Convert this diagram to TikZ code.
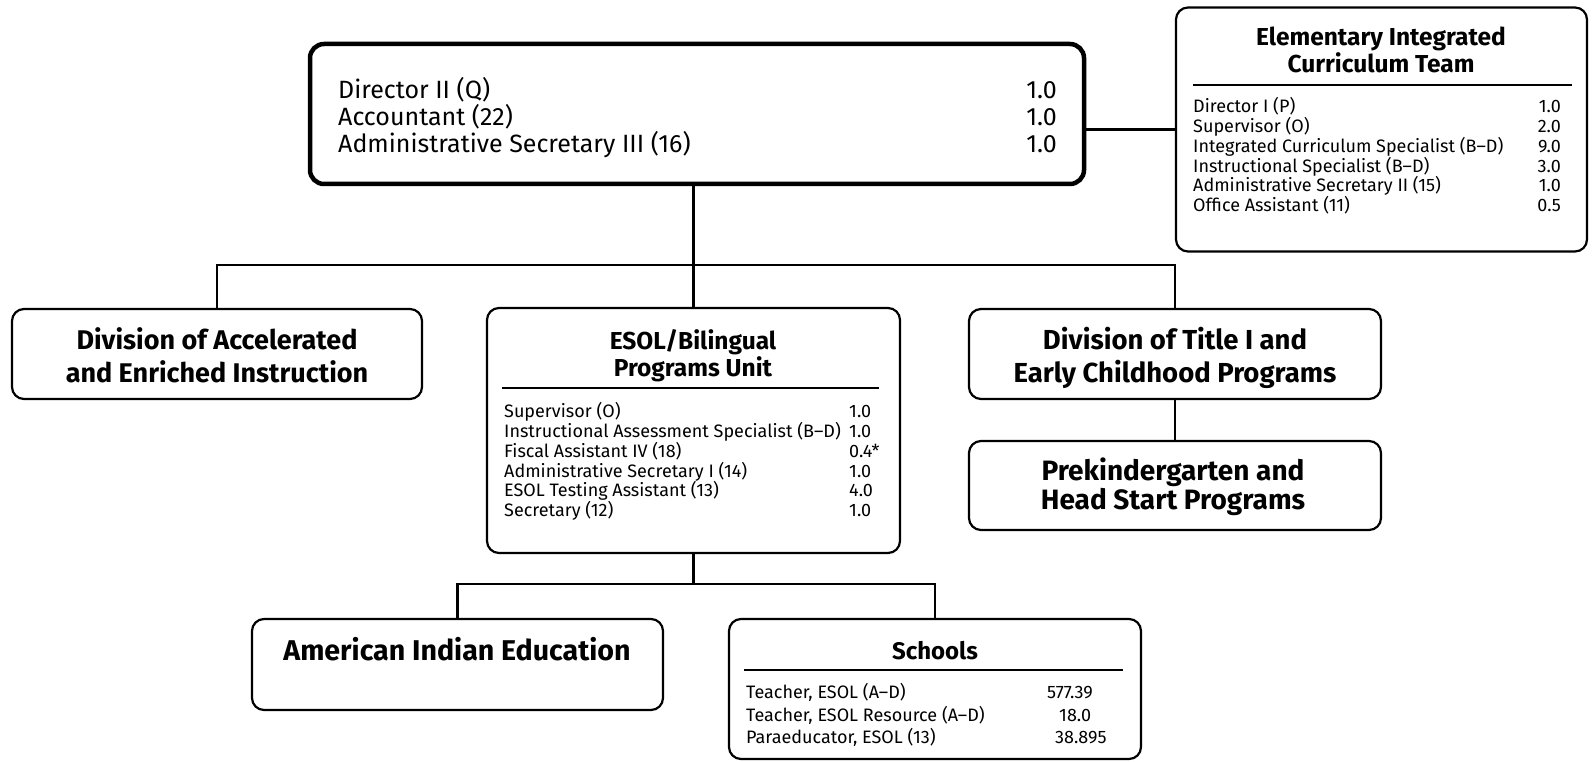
\documentclass[tikz,border=0pt]{standalone}
\usepackage{fontspec}
\setmainfont{Fira Sans}
\newfontfamily\regf{Fira Sans}
\newfontfamily\boldf{Fira Sans}
\tikzset{
  box/.style={draw, rounded corners=12pt, line width=2.2pt, inner sep=0pt},
  tbox/.style={draw, rounded corners=14pt, line width=4.5pt, inner sep=0pt},
  conn/.style={line width=2.2pt},
  rulel/.style={line width=1.3pt},
  toptxt/.style={inner sep=0pt, font=\regf\fontsize{25}{28}\selectfont},
  smtxt/.style={inner sep=0pt, font=\regf\fontsize{18}{20}\selectfont},
  bigtitle/.style={inner sep=0pt, align=center, font=\boldf\bfseries\fontsize{27}{33}\selectfont},
  midtitle/.style={inner sep=0pt, align=center, font=\boldf\bfseries\fontsize{24.5}{27}\selectfont},
}
\begin{document}
\begin{tikzpicture}[x=1pt,y=-1pt]
\useasboundingbox (0,0) rectangle (1592,762);
% boxes
\node[tbox, minimum width=774, minimum height=140] (top) at (697,114) {};
\node[box, minimum width=411, minimum height=244] (elem) at (1381.5,129.5) {};
\node[box, minimum width=410, minimum height=90] (acc) at (217,354) {};
\node[box, minimum width=413, minimum height=245] (esol) at (693.5,430.5) {};
\node[box, minimum width=412, minimum height=90] (title1) at (1175,354) {};
\node[box, minimum width=412, minimum height=89] (prek) at (1175,485.5) {};
\node[box, minimum width=411, minimum height=91] (amind) at (457.5,664.5) {};
\node[box, minimum width=412, minimum height=140] (schools) at (935,689) {};
% connectors
\coordinate (bus) at (0,265);
\coordinate (busb) at (0,584);
\draw[conn] (top.east |- elem.west) -- (elem.west);
\draw[conn] (top.south -| esol.north) -- (esol.north);
\draw[conn] (acc.north) -- (acc.north |- bus) -- (title1.north |- bus) -- (title1.north);
\draw[conn] (title1.south) -- (prek.north);
\draw[conn] (esol.south) -- (esol.south |- busb);
\draw[conn] (amind.north) -- (amind.north |- busb) -- (schools.north |- busb) -- (schools.north);
% top box text
\node[toptxt, anchor=mid west] (ta) at (338,96) {Director II (Q)};
\node[toptxt, anchor=mid west] (tb) at (338,123) {Accountant (22)};
\node[toptxt, anchor=mid west] (tc) at (338,150) {Administrative Secretary III (16)};
\node[toptxt, anchor=mid east] (tav) at (1057,96) {1.0};
\node[toptxt, anchor=mid east] (tbv) at (1057,123) {1.0};
\node[toptxt, anchor=mid east] (tcv) at (1057,150) {1.0};
% elementary team
\node[midtitle] (elt) at (1381,50) {Elementary Integrated\\Curriculum Team};
\draw[rulel] (1193,85) -- (1572,85);
\node[smtxt, anchor=mid west] (e1) at (1193,109.5) {Director I (P)};
\node[smtxt, anchor=mid west] (e2) at (1193,129.5) {Supervisor (O)};
\node[smtxt, anchor=mid west] (e3) at (1193,149.5) {Integrated Curriculum Specialist (B–D)};
\node[smtxt, anchor=mid west] (e4) at (1193,169.5) {Instructional Specialist (B–D)};
\node[smtxt, anchor=mid west] (e5) at (1193,189) {Administrative Secretary II (15)};
\node[smtxt, anchor=mid west] (e6) at (1193,208.5) {Office Assistant (11)};
\node[smtxt, anchor=mid east] (e1v) at (1561,109.5) {1.0};
\node[smtxt, anchor=mid east] (e2v) at (1561,129.5) {2.0};
\node[smtxt, anchor=mid east] (e3v) at (1561,149.5) {9.0};
\node[smtxt, anchor=mid east] (e4v) at (1561,169.5) {3.0};
\node[smtxt, anchor=mid east] (e5v) at (1561,189) {1.0};
\node[smtxt, anchor=mid east] (e6v) at (1561,208.5) {0.5};
% division boxes
\node[bigtitle] (acct) at (217,355) {Division of Accelerated\\and Enriched Instruction};
\node[bigtitle, font=\boldf\bfseries\fontsize{27.5}{33}\selectfont] (t1t) at (1175,358) {Division of Title I and\\Early Childhood Programs};
\node[bigtitle, font=\boldf\bfseries\fontsize{28}{29}\selectfont] (pkt) at (1173,487) {Prekindergarten and\\Head Start Programs};
% esol
\node[midtitle] (est) at (693,356) {ESOL/Bilingual\\Programs Unit};
\draw[rulel] (502,388) -- (879,388);
\node[smtxt, anchor=mid west] (s1) at (504,415) {Supervisor (O)};
\node[smtxt, anchor=mid west] (s2) at (504,435) {Instructional Assessment Specialist (B–D)};
\node[smtxt, anchor=mid west] (s3) at (504,455) {Fiscal Assistant IV (18)};
\node[smtxt, anchor=mid west] (s4) at (504,474.5) {Administrative Secretary I (14)};
\node[smtxt, anchor=mid west] (s5) at (504,494) {ESOL Testing Assistant (13)};
\node[smtxt, anchor=mid west] (s6) at (504,513.5) {Secretary (12)};
\node[smtxt, anchor=mid west] (s1v) at (849,415) {1.0};
\node[smtxt, anchor=mid west] (s2v) at (849,435) {1.0};
\node[smtxt, anchor=mid west] (s3v) at (849,455) {0.4*};
\node[smtxt, anchor=mid west] (s4v) at (849,474.5) {1.0};
\node[smtxt, anchor=mid west] (s5v) at (849,494) {4.0};
\node[smtxt, anchor=mid west] (s6v) at (849,513.5) {1.0};
% american indian
\node[bigtitle, font=\boldf\bfseries\fontsize{28.6}{30}\selectfont] (ait) at (457,649) {American Indian Education};
% schools
\node[midtitle, font=\boldf\bfseries\fontsize{24}{26}\selectfont] (sct) at (935,651) {Schools};
\draw[rulel] (744,670) -- (1123,670);
\node[smtxt, anchor=mid west] (c1) at (746,695.5) {Teacher, ESOL (A–D)};
\node[smtxt, anchor=mid west] (c2) at (746,718.5) {Teacher, ESOL Resource (A–D)};
\node[smtxt, anchor=mid west] (c3) at (746,740.5) {Paraeducator, ESOL (13)};
\node[smtxt, anchor=mid west] (c1v) at (1047,695.5) {577.39};
\node[smtxt, anchor=mid west] (c2v) at (1059,718.5) {18.0};
\node[smtxt, anchor=mid west] (c3v) at (1055,740.5) {38.895};
\end{tikzpicture}
\end{document}
